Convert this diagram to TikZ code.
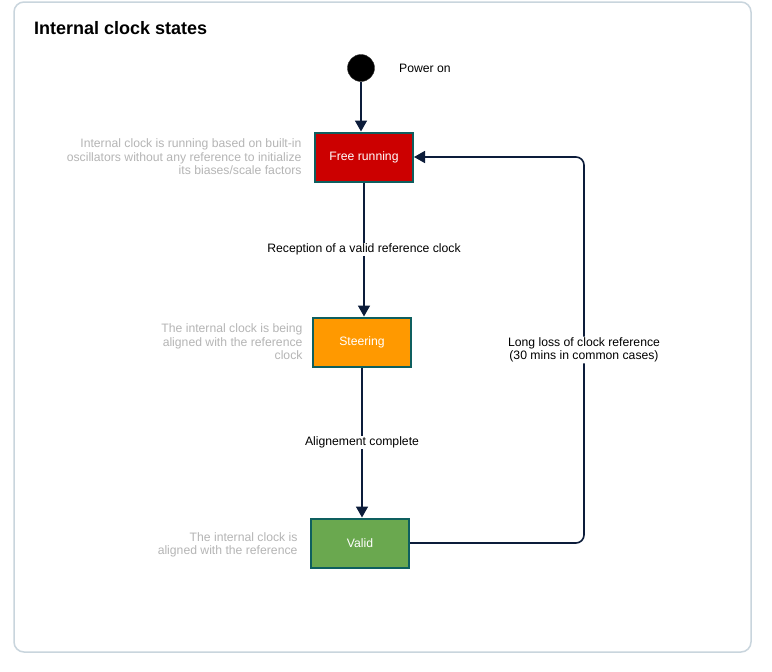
\documentclass[tikz,border=0pt]{standalone}
\usepackage{fontspec}
\setmainfont{Liberation Sans}
\usetikzlibrary{arrows.meta}
\definecolor{frame}{HTML}{C9D5DD}
\definecolor{edge}{HTML}{0C1C3A}
\definecolor{boxline}{HTML}{0E5F5F}
\definecolor{freered}{HTML}{CC0000}
\definecolor{steerorange}{HTML}{FF9900}
\definecolor{validgreen}{HTML}{6AA84F}
\definecolor{notegray}{HTML}{B5B5B5}
\tikzset{
  state/.style={draw=boxline,line width=2pt,minimum width=98pt,minimum height=49pt,
    text=white,font=\fontsize{12.2}{13.6}\selectfont},
  note/.style={anchor=east,align=right,text=notegray,font=\fontsize{12.2}{13.6}\selectfont},
  lbl/.style={fill=white,inner sep=1pt,align=center,font=\fontsize{12.2}{13.6}\selectfont},
  trans/.style={draw=edge,line width=1.6pt,-{Stealth[length=11pt,width=12pt,inset=0pt]}}
}

\begin{document}
\begin{tikzpicture}[x=1pt,y=-1pt]
  \useasboundingbox[fill=white] (0,0) rectangle (772,672);
  \draw[frame,line width=1.5pt,rounded corners=10pt] (14,2) rectangle (751,652);
  \node[anchor=west,inner sep=0pt,font=\fontsize{18}{21}\selectfont\bfseries] (title) at (34,28) {Internal clock states};

  \node[circle,fill=black,draw=black!80,minimum size=27pt,inner sep=0pt] (start) at (361,68) {};
  \node[anchor=west,inner sep=0pt,font=\fontsize{12.2}{13.6}\selectfont] (poweron) at (399,68) {Power on};

  \node[state,fill=freered] (free) at (364,157) {Free running};
  \node[state,fill=steerorange] (steer) at (362,342) {Steering};
  \node[state,fill=validgreen] (valid) at (360,543) {Valid};

  \node[note] (freenote) at (305,157) {Internal clock is running based on built-in\\oscillators without any reference to initialize\\its biases/scale factors};
  \node[note] (steernote) at (306,342) {The internal clock is being\\aligned with the reference\\clock};
  \node[note] (validnote) at (301,545) {The internal clock is\\aligned with the reference};

  \draw[trans] (start) -- (start|-free.north);
  \draw[trans] (free) -- node[lbl] (reception) {Reception of a valid reference clock} (free|-steer.north);
  \draw[trans] (steer) -- node[lbl] (aligned) {Alignement complete} (steer|-valid.north);
  \draw[trans,rounded corners=8pt] (valid.east) -- (584,543) -- node[lbl,pos=0.5] (loss) {Long loss of clock reference\\(30 mins in common cases)} (584,157) -- (free.east);
\end{tikzpicture}
\end{document}
